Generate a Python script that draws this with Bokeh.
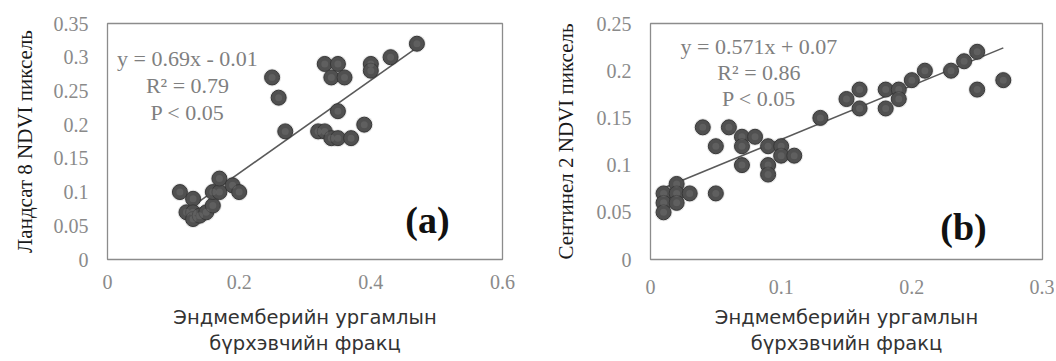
from bokeh.plotting import figure
from bokeh.layouts import row
from bokeh.models import Range1d, FixedTicker, Label
from bokeh.embed import file_html
from bokeh.resources import INLINE

# ---------------- data ----------------
# Panel (a): Landsat 8
a_x = [0.11, 0.13, 0.12, 0.13, 0.13, 0.14, 0.15, 0.16, 0.16, 0.17, 0.17, 0.19, 0.20,
       0.25, 0.26, 0.27, 0.32, 0.33, 0.34, 0.35, 0.37, 0.35, 0.39,
       0.33, 0.35, 0.34, 0.36, 0.40, 0.40, 0.43, 0.47]
a_y = [0.10, 0.09, 0.07, 0.07, 0.06, 0.065, 0.07, 0.08, 0.10, 0.10, 0.12, 0.11, 0.10,
       0.27, 0.24, 0.19, 0.19, 0.19, 0.18, 0.18, 0.18, 0.22, 0.20,
       0.29, 0.29, 0.27, 0.27, 0.29, 0.28, 0.30, 0.32]
a_slope, a_intercept = 0.69, -0.01
a_eq = ["y = 0.69x - 0.01", "R² = 0.79", "P < 0.05"]
a_xticks = [0, 0.2, 0.4, 0.6]
a_xlabels = ["0", "0.2", "0.4", "0.6"]
a_yticks = [0, 0.05, 0.1, 0.15, 0.2, 0.25, 0.3, 0.35]
a_ylabels = ["0", "0.05", "0.1", "0.15", "0.2", "0.25", "0.3", "0.35"]
a_ytitle = "Ландсат 8 NDVI пиксель"

# Panel (b): Sentinel 2
b_x = [0.01, 0.01, 0.01, 0.02, 0.02, 0.02, 0.03, 0.05,
       0.04, 0.05, 0.06, 0.07, 0.08, 0.07, 0.07, 0.09, 0.10, 0.10, 0.11, 0.09, 0.09,
       0.13, 0.15, 0.16, 0.16, 0.18, 0.19, 0.18, 0.19, 0.20, 0.21, 0.23, 0.24, 0.25,
       0.25, 0.27]
b_y = [0.07, 0.06, 0.05, 0.08, 0.07, 0.06, 0.07, 0.07,
       0.14, 0.12, 0.14, 0.13, 0.13, 0.12, 0.10, 0.12, 0.12, 0.11, 0.11, 0.10, 0.09,
       0.15, 0.17, 0.18, 0.16, 0.18, 0.18, 0.16, 0.17, 0.19, 0.20, 0.20, 0.21, 0.22,
       0.18, 0.19]
b_slope, b_intercept = 0.571, 0.07
b_eq = ["y = 0.571x + 0.07", "R² = 0.86", "P < 0.05"]
b_xticks = [0, 0.1, 0.2, 0.3]
b_xlabels = ["0", "0.1", "0.2", "0.3"]
b_yticks = [0, 0.05, 0.1, 0.15, 0.2, 0.25]
b_ylabels = ["0", "0.05", "0.1", "0.15", "0.2", "0.25"]
b_ytitle = "Сентинел 2 NDVI пиксель"

x_title = "Эндмемберийн ургамлын\nбүрхэвчийн фракц"

SERIF = "Liberation Serif"
SANS = "DejaVu Sans"
TICK_COLOR = "#8a8a8a"
EQ_COLOR = "#7f7f7f"
FIG_H = 361


def make_panel(xs, ys, slope, intercept, eq, xticks, xlabels, yticks, ylabels,
               ytitle, tag, xmax, ymax, width, borders, standoffs, eq_pos, tag_pos):
    p = figure(width=width, height=FIG_H, output_backend="svg", toolbar_location=None,
               x_range=Range1d(0, xmax), y_range=Range1d(0, ymax),
               min_border_left=borders[0], min_border_right=borders[1],
               min_border_top=borders[2], min_border_bottom=borders[3])
    p.background_fill_color = "white"
    p.border_fill_color = "white"
    p.outline_line_color = "#8c8c8c"
    p.outline_line_width = 1.3
    p.grid.visible = False

    for ax in (p.xaxis[0], p.yaxis[0]):
        ax.axis_line_color = None
        ax.major_tick_line_color = None
        ax.minor_tick_line_color = None
        ax.major_tick_out = 0
        ax.major_tick_in = 0
        ax.major_label_text_font = SERIF
        ax.major_label_text_font_size = "20px"
        ax.major_label_text_color = TICK_COLOR

    p.xaxis.ticker = FixedTicker(ticks=xticks)
    p.xaxis.major_label_overrides = dict(zip(xticks, xlabels))
    p.yaxis.ticker = FixedTicker(ticks=yticks)
    p.yaxis.major_label_overrides = dict(zip(yticks, ylabels))
    p.xaxis.major_label_standoff = standoffs[0]
    p.yaxis.major_label_standoff = 19

    p.xaxis.axis_label = x_title
    p.xaxis.axis_label_text_font = SANS
    p.xaxis.axis_label_text_font_size = "19.5px"
    p.xaxis.axis_label_text_font_style = "normal"
    p.xaxis.axis_label_text_color = "#333333"
    p.xaxis.axis_label_text_line_height = 1.15
    p.xaxis.axis_label_standoff = standoffs[1]

    p.yaxis.axis_label = ytitle
    p.yaxis.axis_label_text_font = SERIF
    p.yaxis.axis_label_text_font_size = "21px"
    p.yaxis.axis_label_text_font_style = "normal"
    p.yaxis.axis_label_text_color = "#1a1a1a"
    p.yaxis.axis_label_standoff = standoffs[2]

    # trendline over data x-range
    x0, x1 = min(xs), max(xs)
    p.line([x0, x1], [slope * x0 + intercept, slope * x1 + intercept],
           line_color="#5a5a5a", line_width=1.6)

    # spheres
    p.scatter(xs, ys, size=18, fill_color="#000000", fill_alpha=0.10, line_color=None)
    p.scatter(xs, ys, size=15, fill_color="#505050", line_color="#383838", line_width=1)
    p.scatter(xs, ys, size=7, fill_color="#8a8a8a", fill_alpha=0.25, line_color=None)

    ex, ey, dy = eq_pos
    for i, t in enumerate(eq):
        p.add_layout(Label(x=ex, y=ey - i * dy, text=t, text_align="center",
                           text_baseline="middle", text_font=SERIF,
                           text_font_size="22px", text_color=EQ_COLOR))
    p.add_layout(Label(x=tag_pos[0], y=tag_pos[1], text=tag, text_align="center",
                       text_baseline="middle", text_font=SERIF, text_font_size="38px",
                       text_font_style="bold", text_color="#111111"))
    return p


pa = make_panel(a_x, a_y, a_slope, a_intercept, a_eq, a_xticks, a_xlabels,
                a_yticks, a_ylabels, a_ytitle, "(a)", 0.6, 0.35, 547,
                (107, 45, 23, FIG_H - 259), (15, 14, 14),
                (0.1215, 0.2975, 0.0395), (0.486, 0.058))
pb = make_panel(b_x, b_y, b_slope, b_intercept, b_eq, b_xticks, b_xlabels,
                b_yticks, b_ylabels, b_ytitle, "(b)", 0.3, 0.25, 507,
                (103, 12, 23, FIG_H - 259), (20, 9, 16),
                (0.083, 0.2257, 0.0274), (0.2395, 0.0348))

layout = row(pa, pb)
open("out.html", "w").write(file_html(layout, INLINE))
